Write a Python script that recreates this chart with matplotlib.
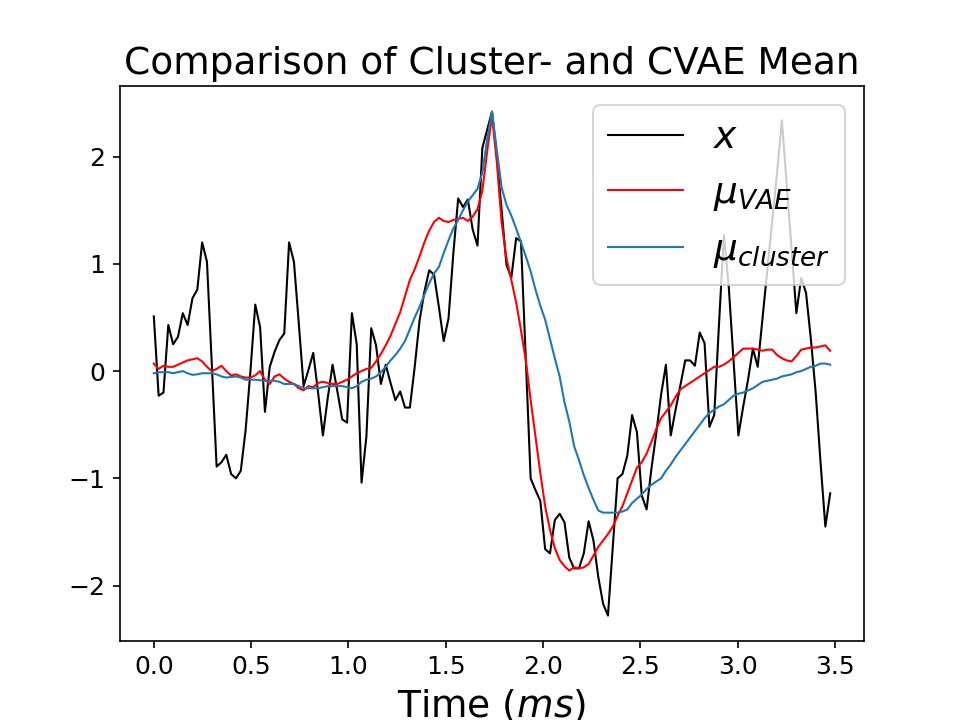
import numpy as np
import matplotlib
matplotlib.use('Agg')
import matplotlib.pyplot as plt

# sample times (ms): 141 samples over 3.5 ms
n_samples = 141
time_ms = np.arange(n_samples) * 3.5 / n_samples

x_signal = [
    0.51, -0.23, -0.20, 0.43, 0.25, 0.32, 0.54, 0.43, 0.68, 0.76,
    1.20, 1.02, 0.07, -0.89, -0.85, -0.78, -0.96, -1.00, -0.93, -0.55,
    0.00, 0.62, 0.41, -0.38, 0.04, 0.18, 0.29, 0.35, 1.20, 1.02,
    0.45, -0.14, 0.01, 0.17, -0.20, -0.60, -0.25, 0.06, -0.19, -0.45,
    -0.48, 0.54, 0.25, -1.04, -0.61, 0.40, 0.24, -0.12, 0.06, -0.11,
    -0.27, -0.19, -0.34, -0.34, 0.04, 0.47, 0.74, 0.94, 0.90, 0.60,
    0.28, 0.49, 1.10, 1.61, 1.53, 1.60, 1.32, 1.17, 2.08, 2.25,
    2.42, 2.00, 1.50, 0.99, 0.87, 1.24, 1.21, 0.10, -1.00, -1.11,
    -1.21, -1.66, -1.70, -1.39, -1.33, -1.41, -1.74, -1.84, -1.84, -1.70,
    -1.40, -1.58, -1.92, -2.17, -2.28, -1.64, -1.00, -0.96, -0.79, -0.41,
    -0.57, -1.16, -1.29, -0.91, -0.58, -0.22, 0.06, -0.60, -0.36, -0.13,
    0.10, 0.10, 0.05, 0.36, 0.26, -0.52, -0.41, 0.45, 1.27, 0.79,
    0.10, -0.60, -0.33, -0.08, 0.21, 0.04, 0.50, 0.95, 1.40, 1.85,
    2.34, 1.74, 1.14, 0.54, 0.87, 0.73, 0.30, -0.20, -0.85, -1.45,
    -1.14,
]

mu_vae = [
    0.07, 0.02, 0.05, 0.04, 0.04, 0.06, 0.08, 0.10, 0.11, 0.12,
    0.09, 0.04, 0.00, 0.02, 0.05, 0.00, -0.04, -0.03, -0.05, -0.06,
    -0.06, -0.04, 0.00, -0.08, -0.12, -0.05, -0.03, -0.07, -0.10, -0.12,
    -0.16, -0.18, -0.14, -0.15, -0.11, -0.10, -0.11, -0.12, -0.12, -0.10,
    -0.08, -0.05, -0.02, 0.00, 0.02, 0.03, 0.09, 0.16, 0.24, 0.33,
    0.44, 0.55, 0.70, 0.85, 0.95, 1.07, 1.20, 1.31, 1.39, 1.43,
    1.40, 1.39, 1.41, 1.42, 1.43, 1.40, 1.44, 1.51, 1.68, 2.05,
    2.38, 1.95, 1.38, 1.05, 0.85, 0.64, 0.38, 0.10, -0.27, -0.61,
    -0.95, -1.26, -1.48, -1.65, -1.76, -1.82, -1.86, -1.83, -1.84, -1.83,
    -1.80, -1.72, -1.64, -1.58, -1.52, -1.45, -1.35, -1.26, -1.14, -1.02,
    -0.90, -0.85, -0.77, -0.66, -0.54, -0.44, -0.38, -0.32, -0.24, -0.17,
    -0.14, -0.11, -0.08, -0.05, -0.02, 0.01, 0.04, 0.04, 0.06, 0.09,
    0.13, 0.17, 0.21, 0.21, 0.21, 0.20, 0.19, 0.20, 0.20, 0.15,
    0.12, 0.10, 0.09, 0.14, 0.20, 0.21, 0.22, 0.22, 0.23, 0.24,
    0.19,
]

mu_cluster = [
    -0.02, -0.01, -0.01, -0.01, -0.02, -0.01, 0.00, -0.02, -0.035, -0.03,
    -0.02, -0.02, -0.02, -0.03, -0.05, -0.06, -0.055, -0.05, -0.06, -0.08,
    -0.08, -0.08, -0.085, -0.09, -0.09, -0.09, -0.10, -0.12, -0.12, -0.12,
    -0.14, -0.16, -0.16, -0.16, -0.16, -0.15, -0.14, -0.14, -0.14, -0.14,
    -0.15, -0.16, -0.14, -0.10, -0.08, -0.07, -0.05, -0.01, 0.04, 0.10,
    0.15, 0.21, 0.28, 0.39, 0.50, 0.60, 0.71, 0.82, 0.91, 0.97,
    1.10, 1.22, 1.33, 1.41, 1.50, 1.58, 1.64, 1.70, 1.85, 2.16,
    2.42, 2.06, 1.71, 1.55, 1.45, 1.33, 1.20, 1.07, 0.93, 0.76,
    0.61, 0.48, 0.30, 0.12, -0.05, -0.29, -0.47, -0.70, -0.83, -0.97,
    -1.09, -1.20, -1.30, -1.32, -1.32, -1.32, -1.32, -1.31, -1.29, -1.23,
    -1.19, -1.15, -1.10, -1.06, -1.03, -1.00, -0.93, -0.87, -0.80, -0.74,
    -0.68, -0.62, -0.56, -0.50, -0.44, -0.39, -0.36, -0.33, -0.31, -0.27,
    -0.23, -0.21, -0.20, -0.18, -0.16, -0.13, -0.10, -0.09, -0.08, -0.07,
    -0.05, -0.04, -0.03, -0.01, 0.00, 0.02, 0.04, 0.05, 0.07, 0.07,
    0.06,
]

fig, ax = plt.subplots(figsize=(6.4, 4.8), dpi=150)
ax.plot(time_ms, x_signal, color='k', linewidth=1.0, label='$x$')
ax.plot(time_ms, mu_vae, color='r', linewidth=1.0, label='$\\mu_{VAE}$')
ax.plot(time_ms, mu_cluster, color='tab:blue', linewidth=1.0, label='$\\mu_{cluster}$')

ax.set_title('Comparison of Cluster- and CVAE Mean', fontsize=18)
ax.set_xlabel('Time ($ms$)', fontsize=18)
ax.tick_params(labelsize=12)
ax.legend(loc='upper right', fontsize=18)

fig.savefig('out.png', dpi=150)
